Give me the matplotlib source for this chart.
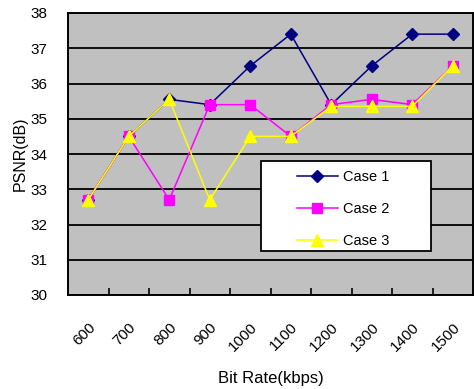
import matplotlib.pyplot as plt
from matplotlib.patches import Rectangle

plt.rcParams['font.family'] = ['Liberation Sans', 'DejaVu Sans']

bit_rates = ['600', '700', '800', '900', '1000', '1100', '1200', '1300', '1400', '1500']
case1 = [32.7, 34.5, 35.55, 35.4, 36.5, 37.4, 35.4, 36.5, 37.4, 37.4]
case2 = [32.7, 34.5, 32.7, 35.4, 35.4, 34.5, 35.4, 35.55, 35.4, 36.5]
case3 = [32.7, 34.5, 35.55, 32.7, 34.5, 34.5, 35.35, 35.35, 35.35, 36.5]

W, H = 474, 389
fig = plt.figure(figsize=(W / 100, H / 100), dpi=100)
ax = fig.add_axes([68 / W, 1 - 295 / H, 405 / W, 282 / H])
ax.set_facecolor('#c0c0c0')

x = list(range(len(bit_rates)))
ax.plot(x, case1, color='#000080', marker='D', markersize=6, lw=1.1, label='Case 1', zorder=3)
ax.plot(x, case2, color='#ff00ff', marker='s', markersize=7, lw=1.1, label='Case 2', zorder=4)
ax.plot(x, case3, color='#ffff00', marker='^', markersize=8, lw=1.1, label='Case 3', zorder=5)

ax.set_xlim(-0.5, len(bit_rates) - 0.5)
ax.set_ylim(30, 38)
ax.set_yticks(range(30, 39))
ax.yaxis.grid(True, color='black', lw=1.3)
ax.set_axisbelow(True)
for s in ax.spines.values():
    s.set_color('black')
    s.set_linewidth(1.4)

ax.set_xticks(x)
ax.set_xticklabels(bit_rates, rotation=45, ha='right', va='top', rotation_mode='anchor')
ax.set_xticks([i + 0.5 for i in x[:-1]], minor=True)
ax.tick_params(axis='x', which='major', length=0, pad=18, labelsize=11)
ax.tick_params(axis='x', which='minor', direction='in', length=5, width=1.2)
ax.tick_params(axis='y', length=0, pad=15, labelsize=11)

ax.set_ylabel('PSNR(dB)', fontsize=11.5, labelpad=2)
ax.set_xlabel('Bit Rate(kbps)', fontsize=12, va='center')
ax.xaxis.set_label_coords(0.5, -83 / 282)

# legend box drawn separately so the padding can be wide
box = Rectangle((261 / W, 1 - 251 / H), 170 / W, 90 / H, transform=fig.transFigure,
                facecolor='white', edgecolor='black', lw=1.3, zorder=6)
fig.patches.append(box)
leg = fig.legend(loc='upper left', bbox_to_anchor=(297 / W, 1 - 170 / H),
                 frameon=False, fontsize=10.5, handlelength=2.8, handletextpad=0.35,
                 labelspacing=1.25, borderpad=0, borderaxespad=0)
leg.set_zorder(7)

fig.savefig('out.png', dpi=100)
